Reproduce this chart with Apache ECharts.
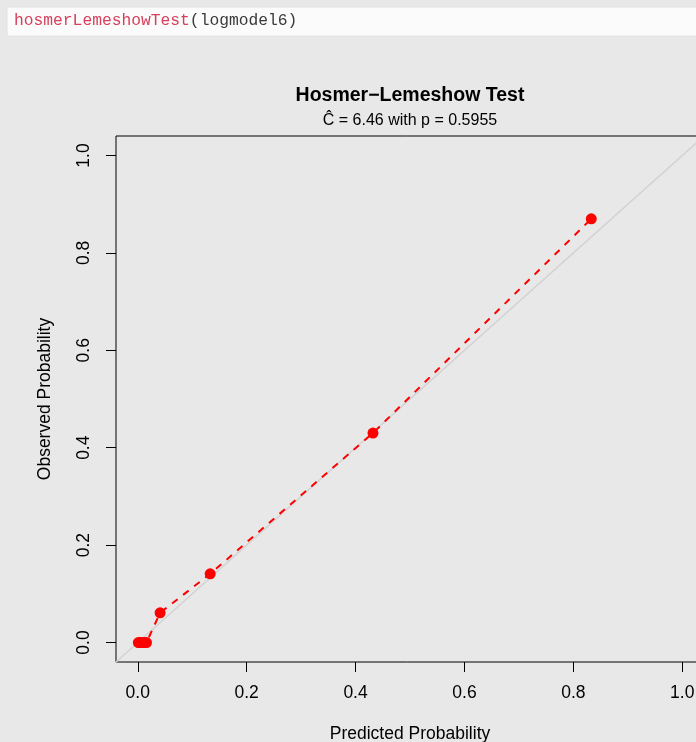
<!DOCTYPE html>
<html>
<head>
<meta charset="utf-8">
<title>Hosmer-Lemeshow Test</title>
<script src="https://cdn.jsdelivr.net/npm/echarts@6/dist/echarts.min.js"></script>
<style>
  html, body { margin: 0; padding: 0; background: #e8e8e8; }
  #chart { width: 696px; height: 742px; }
</style>
</head>
<body>
<div id="chart"></div>
<script>
// Grouped predicted vs. observed probabilities from the Hosmer-Lemeshow test
const predicted = [0.001, 0.004, 0.008, 0.012, 0.016, 0.041, 0.133, 0.432, 0.833];
const observed  = [0.000, 0.000, 0.000, 0.000, 0.000, 0.061, 0.141, 0.430, 0.870];

// Perfect-calibration reference (y = x), spanning the whole plot region
const diagonal = [-0.1, 1.1];

// Axis ticks
const tickValues = [0, 0.2, 0.4, 0.6, 0.8, 1.0];

const titleText = 'Hosmer\u2212Lemeshow Test';
const statText = '\u0108 = 6.46 with p = 0.5955';
const codeFunc = 'hosmerLemeshowTest';
const codeArgs = '(logmodel6)';

const FONT = '"Liberation Sans", Arial, Helvetica, sans-serif';
const MONO = '"Liberation Mono", "Courier New", monospace';

const points = predicted.map((p, i) => [p, observed[i]]);

const chart = echarts.init(document.getElementById('chart'), null, { renderer: 'canvas' });

const axisCommon = {
  type: 'value',
  min: -0.04,
  max: 1.04,
  splitLine: { show: false },
  // the grid border draws the box; keep axes on the plot edges
  axisLine: { show: false, onZero: false },
  axisTick: {
    show: true,
    inside: false,
    customValues: tickValues,
    length: 10,
    lineStyle: { color: '#000', width: 1 }
  },
  nameLocation: 'middle',
  nameTextStyle: { fontFamily: FONT, fontSize: 17.5, color: '#000' }
};

chart.setOption({
  backgroundColor: '#e8e8e8',
  animation: false,
  grid: {
    left: 116,
    top: 136,
    width: 588,
    height: 526,
    containLabel: false,
    outerBoundsMode: 'none',
    show: true,
    backgroundColor: 'transparent',
    borderColor: '#000',
    borderWidth: 1
  },
  xAxis: Object.assign({}, axisCommon, {
    name: 'Predicted Probability',
    nameGap: 63,
    axisLabel: {
      customValues: tickValues,
      formatter: v => v.toFixed(1),
      margin: 22,
      fontFamily: FONT,
      fontSize: 17.5,
      color: '#000'
    }
  }),
  yAxis: Object.assign({}, axisCommon, {
    name: 'Observed Probability',
    nameGap: 62,
    axisLabel: {
      customValues: tickValues,
      formatter: v => v.toFixed(1),
      rotate: 90,
      margin: 23,
      fontFamily: FONT,
      fontSize: 17.5,
      color: '#000'
    }
  }),
  series: [
    {
      name: 'reference',
      type: 'line',
      data: diagonal.map(v => [v, v]),
      symbol: 'none',
      silent: true,
      clip: true,
      lineStyle: { color: '#d2d2d2', width: 1.5 },
      z: 1
    },
    {
      name: 'groups',
      type: 'line',
      data: points,
      symbol: 'circle',
      symbolSize: 11,
      showAllSymbol: true,
      itemStyle: { color: '#ff0000' },
      lineStyle: { color: '#ff0000', width: 2, type: [7, 7] },
      z: 3
    }
  ],
  graphic: [
    {
      type: 'rect',
      shape: { x: 7, y: 7, width: 700, height: 29 },
      style: { fill: '#fbfbfb', stroke: '#e2e2e2', lineWidth: 1 },
      silent: true
    },
    {
      type: 'text',
      x: 14,
      y: 21,
      style: {
        text: '{f|' + codeFunc + '}{a|' + codeArgs + '}',
        textVerticalAlign: 'middle',
        rich: {
          f: { fontFamily: MONO, fontSize: 16.3, fill: '#d6405c' },
          a: { fontFamily: MONO, fontSize: 16.3, fill: '#3a3a3a' }
        }
      },
      silent: true
    },
    {
      type: 'text',
      x: 410,
      y: 96,
      style: {
        text: titleText,
        textAlign: 'center',
        textVerticalAlign: 'middle',
        fontFamily: FONT,
        fontWeight: 'bold',
        fontSize: 19.5,
        fill: '#000'
      },
      silent: true
    },
    {
      type: 'text',
      x: 410,
      y: 121,
      style: {
        text: statText,
        textAlign: 'center',
        textVerticalAlign: 'middle',
        fontFamily: FONT,
        fontSize: 16,
        fill: '#000'
      },
      silent: true
    }
  ]
});
</script>
</body>
</html>
